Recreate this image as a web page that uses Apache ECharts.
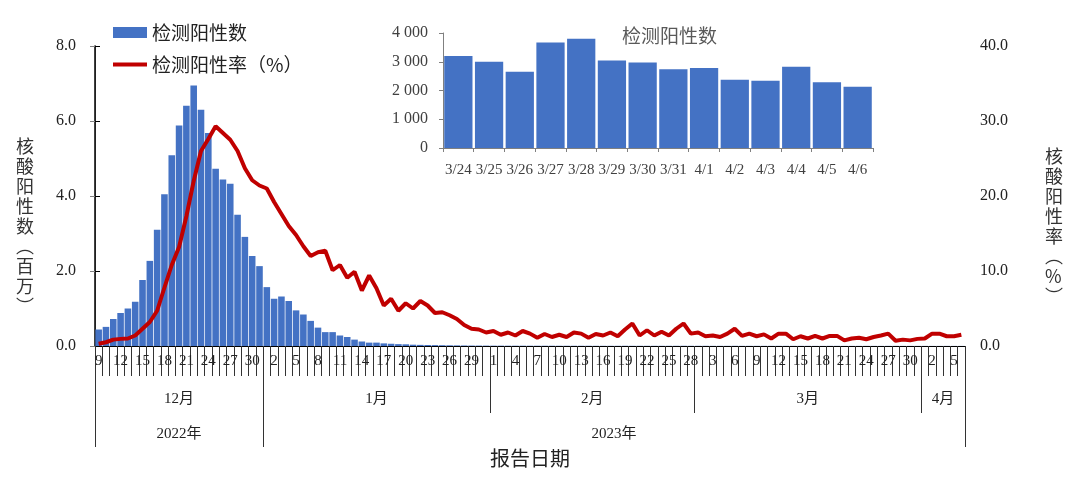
<!DOCTYPE html>
<html><head><meta charset="utf-8">
<script src="https://cdn.jsdelivr.net/npm/echarts@6/dist/echarts.min.js"></script>
<style>html,body{margin:0;padding:0;background:#fff}#c{width:1080px;height:488px}</style>
</head><body><div id="c"></div>
<script>
// ---- categories (report dates, 2022-12-09 .. 2023-04-06) ----
const dates = [
 '12/9','12/10','12/11','12/12','12/13','12/14','12/15','12/16','12/17','12/18','12/19','12/20','12/21','12/22','12/23','12/24','12/25','12/26','12/27','12/28','12/29','12/30','12/31',
 '1/1','1/2','1/3','1/4','1/5','1/6','1/7','1/8','1/9','1/10','1/11','1/12','1/13','1/14','1/15','1/16','1/17','1/18','1/19','1/20','1/21','1/22','1/23','1/24','1/25','1/26','1/27','1/28','1/29','1/30','1/31',
 '2/1','2/2','2/3','2/4','2/5','2/6','2/7','2/8','2/9','2/10','2/11','2/12','2/13','2/14','2/15','2/16','2/17','2/18','2/19','2/20','2/21','2/22','2/23','2/24','2/25','2/26','2/27','2/28',
 '3/1','3/2','3/3','3/4','3/5','3/6','3/7','3/8','3/9','3/10','3/11','3/12','3/13','3/14','3/15','3/16','3/17','3/18','3/19','3/20','3/21','3/22','3/23','3/24','3/25','3/26','3/27','3/28','3/29','3/30','3/31',
 '4/1','4/2','4/3','4/4','4/5','4/6'
];
const yearOfMonth = {12: '2022年', 1: '2023年', 2: '2023年', 3: '2023年', 4: '2023年'};

// ---- positives (millions) ----
const countDec = [0.44,0.51,0.72,0.88,1.00,1.18,1.76,2.27,3.10,4.05,5.09,5.88,6.41,6.95,6.30,5.68,4.73,4.44,4.33,3.50,2.91,2.40,2.13];
const countJan = [1.57,1.26,1.32,1.20,0.95,0.84,0.67,0.49,0.37,0.37,0.28,0.24,0.17,0.12,0.09,0.09,0.07,0.06,0.05,0.045,0.035,0.03,0.027,0.024,0.021,0.018,0.016,0.014,0.012,0.011,0.010];
const countFeb = [0.009,0.009,0.008,0.008,0.008,0.007,0.007,0.007,0.007,0.006,0.006,0.006,0.006,0.006,0.005,0.005,0.005,0.005,0.006,0.005,0.005,0.005,0.005,0.005,0.005,0.005,0.006,0.005];
const countMar = [0.005,0.005,0.004,0.004,0.004,0.005,0.004,0.004,0.004,0.004,0.004,0.004,0.004,0.004,0.004,0.004,0.003,0.003,0.004,0.004,0.003,0.003,0.003,0.0032,0.0030,0.00265,0.00367,0.0038,0.00304,0.00297,0.00274];
const countApr = [0.00278,0.00237,0.00234,0.00283,0.00229,0.00213];

// ---- positive rate (%) ----
const rateDec = [0.3,0.5,0.85,0.95,1.0,1.4,2.3,3.2,4.7,7.8,10.8,13.2,17.3,22.0,26.0,27.6,29.3,28.4,27.5,26.0,23.7,22.1,21.4];
const rateJan = [21.0,19.2,17.6,16.0,14.8,13.3,12.0,12.5,12.7,10.1,10.8,9.1,9.9,7.4,9.4,7.7,5.4,6.3,4.7,5.7,5.0,6.0,5.4,4.4,4.5,4.1,3.6,2.8,2.3,2.2,1.8];
const rateFeb = [2.0,1.5,1.8,1.4,2.0,1.65,1.1,1.6,1.2,1.5,1.2,1.8,1.65,1.1,1.6,1.4,1.8,1.3,2.2,3.0,1.4,2.1,1.4,1.9,1.4,2.3,3.0,1.65];
const rateMar = [1.8,1.3,1.4,1.2,1.65,2.3,1.35,1.65,1.3,1.55,1.0,1.65,1.65,0.9,1.3,1.0,1.35,1.0,1.35,1.35,0.75,1.0,1.1,0.9,1.2,1.4,1.65,0.7,0.85,0.75,0.95];
const rateApr = [1.0,1.65,1.65,1.3,1.3,1.5];

// ---- inset: last two weeks ----
const insetDates = ['3/24','3/25','3/26','3/27','3/28','3/29','3/30','3/31','4/1','4/2','4/3','4/4','4/5','4/6'];
const insetCounts = [3200,3000,2650,3670,3800,3040,2970,2740,2780,2370,2340,2830,2290,2130];

const positiveCount = [].concat(countDec, countJan, countFeb, countMar, countApr);
const positiveRate = [].concat(rateDec, rateJan, rateFeb, rateMar, rateApr);

// month / year segments derived from the date categories
function segments(keyFn) {
  const out = [];
  dates.forEach((d, i) => {
    const k = keyFn(d);
    if (!out.length || out[out.length - 1].key !== k) out.push({key: k, start: i, end: i + 1});
    else out[out.length - 1].end = i + 1;
  });
  return out;
}
const monthOf = d => +d.split('/')[0];
const monthSegs = segments(d => monthOf(d) + '月');
const yearSegs = segments(d => yearOfMonth[monthOf(d)]);
const monthLabelMap = {}; monthSegs.forEach(s => monthLabelMap[(s.start + s.end) / 2] = s.key);
const yearLabelMap = {}; yearSegs.forEach(s => yearLabelMap[(s.start + s.end) / 2] = s.key);

const serif = '"Liberation Serif", "Times New Roman", "Noto Sans CJK SC", serif';
const sans = '"Noto Sans CJK SC", sans-serif';
const BLUE = '#4472C4', RED = '#C00000';
// vertical (stacked) axis name; leading blank lines push the block down
const vert = (s, pad) => '\n'.repeat(pad) + s.split('').join('\n');
// legend icon: a thick horizontal stroke inside an 34x11 box
const lineIcon = 'path://M0,0L0.01,0M0,3.5L34,3.5L34,7.5L0,7.5ZM0,11L0.01,11';

const chart = echarts.init(document.getElementById('c'));
chart.setOption({
  animation: false,
  backgroundColor: '#fff',
  title: {
    text: '检测阳性数', left: 622, top: 26, padding: 0,
    textStyle: {fontFamily: sans, fontSize: 19, fontWeight: 'normal', color: '#595959'}
  },
  legend: {
    data: [{name: '检测阳性数', icon: 'rect'}, {name: '检测阳性率（%）', icon: lineIcon}],
    orient: 'vertical', left: 113, top: 23, padding: 0, itemGap: 13,
    itemWidth: 34, itemHeight: 11,
    textStyle: {fontFamily: sans, fontSize: 19, color: '#222'}
  },
  grid: [
    {left: 95, right: 115, top: 46, bottom: 142},
    {left: 443, right: 207, top: 33, bottom: 340}
  ],
  xAxis: [
    {
      type: 'category', gridIndex: 0, data: dates, boundaryGap: true, position: 'bottom',
      axisLine: {lineStyle: {color: '#000', width: 1}},
      axisTick: {show: true, interval: 0, length: 30, lineStyle: {color: '#333'}},
      axisLabel: {interval: 2, margin: 8, formatter: d => d.split('/')[1], fontFamily: serif, fontSize: 15, color: '#222'},
      splitLine: {show: false}
    },
    {
      type: 'value', gridIndex: 0, min: 0, max: dates.length, position: 'bottom',
      axisLine: {show: false},
      axisTick: {show: true, customValues: monthSegs.slice(1).map(s => s.start), length: 67, lineStyle: {color: '#333'}},
      axisLabel: {customValues: monthSegs.map(s => (s.start + s.end) / 2), formatter: v => monthLabelMap[v] || '', margin: 46, fontFamily: serif, fontSize: 15, color: '#222'},
      splitLine: {show: false}
    },
    {
      type: 'value', gridIndex: 0, min: 0, max: dates.length, position: 'bottom',
      axisLine: {show: false},
      axisTick: {show: true, customValues: [0].concat(yearSegs.map(s => s.end)), length: 101, lineStyle: {color: '#333'}},
      axisLabel: {customValues: yearSegs.map(s => (s.start + s.end) / 2), formatter: v => yearLabelMap[v] || '', margin: 81, fontFamily: serif, fontSize: 15, color: '#222'},
      splitLine: {show: false},
      name: '报告日期', nameLocation: 'middle', nameGap: 102,
      nameTextStyle: {fontFamily: sans, fontSize: 20, color: '#222'}
    },
    {
      type: 'category', gridIndex: 1, data: insetDates, boundaryGap: true,
      axisLine: {lineStyle: {color: '#808080'}},
      axisTick: {show: true, interval: 0, length: 4, lineStyle: {color: '#808080'}},
      axisLabel: {interval: 0, margin: 15, fontFamily: serif, fontSize: 15, color: '#404040'},
      splitLine: {show: false}
    }
  ],
  yAxis: [
    {
      type: 'value', gridIndex: 0, min: 0, max: 8, interval: 2, position: 'left',
      axisLine: {show: true, lineStyle: {color: '#808080'}},
      axisTick: {show: true, length: 5, lineStyle: {color: '#808080'}},
      axisLabel: {formatter: v => v.toFixed(1), margin: 19, fontFamily: serif, fontSize: 16, color: '#222'},
      splitLine: {show: false},
      name: vert('核酸阳性数︵百万︶', 3), nameLocation: 'middle', nameRotate: 0, nameGap: 61,
      nameTextStyle: {fontFamily: sans, fontSize: 18, lineHeight: 20, color: '#333'}
    },
    {
      type: 'value', gridIndex: 0, min: 0, max: 40, interval: 10, position: 'right',
      axisLine: {show: true, lineStyle: {color: '#000', width: 1.5}},
      axisTick: {show: true, length: 5, lineStyle: {color: '#000'}},
      axisLabel: {formatter: v => v.toFixed(1), margin: 15, fontFamily: serif, fontSize: 16, color: '#222'},
      splitLine: {show: false},
      name: vert('核酸阳性率︵%︶', 3), nameLocation: 'middle', nameRotate: 0, nameGap: 80,
      nameTextStyle: {fontFamily: sans, fontSize: 18, lineHeight: 20, color: '#333'}
    },
    {
      type: 'value', gridIndex: 1, min: 0, max: 4000, interval: 1000,
      axisLine: {show: true, lineStyle: {color: '#808080'}},
      axisTick: {show: true, length: 4, lineStyle: {color: '#808080'}},
      axisLabel: {formatter: v => String(v).replace(/\B(?=(\d{3})+(?!\d))/g, ' '), margin: 15, fontFamily: serif, fontSize: 16, color: '#404040'},
      splitLine: {show: false}
    }
  ],
  series: [
    {name: '检测阳性数', type: 'bar', xAxisIndex: 0, yAxisIndex: 0, data: positiveCount,
     barCategoryGap: '10%', itemStyle: {color: BLUE}, z: 2},
    {name: '检测阳性率（%）', type: 'line', xAxisIndex: 0, yAxisIndex: 1, data: positiveRate,
     symbol: 'none', lineStyle: {color: RED, width: 4}, itemStyle: {color: RED}, z: 3},
    {name: '近两周检测阳性数', type: 'bar', xAxisIndex: 3, yAxisIndex: 2, data: insetCounts,
     barCategoryGap: '8%', itemStyle: {color: BLUE}}
  ]
});
</script>
</body></html>
